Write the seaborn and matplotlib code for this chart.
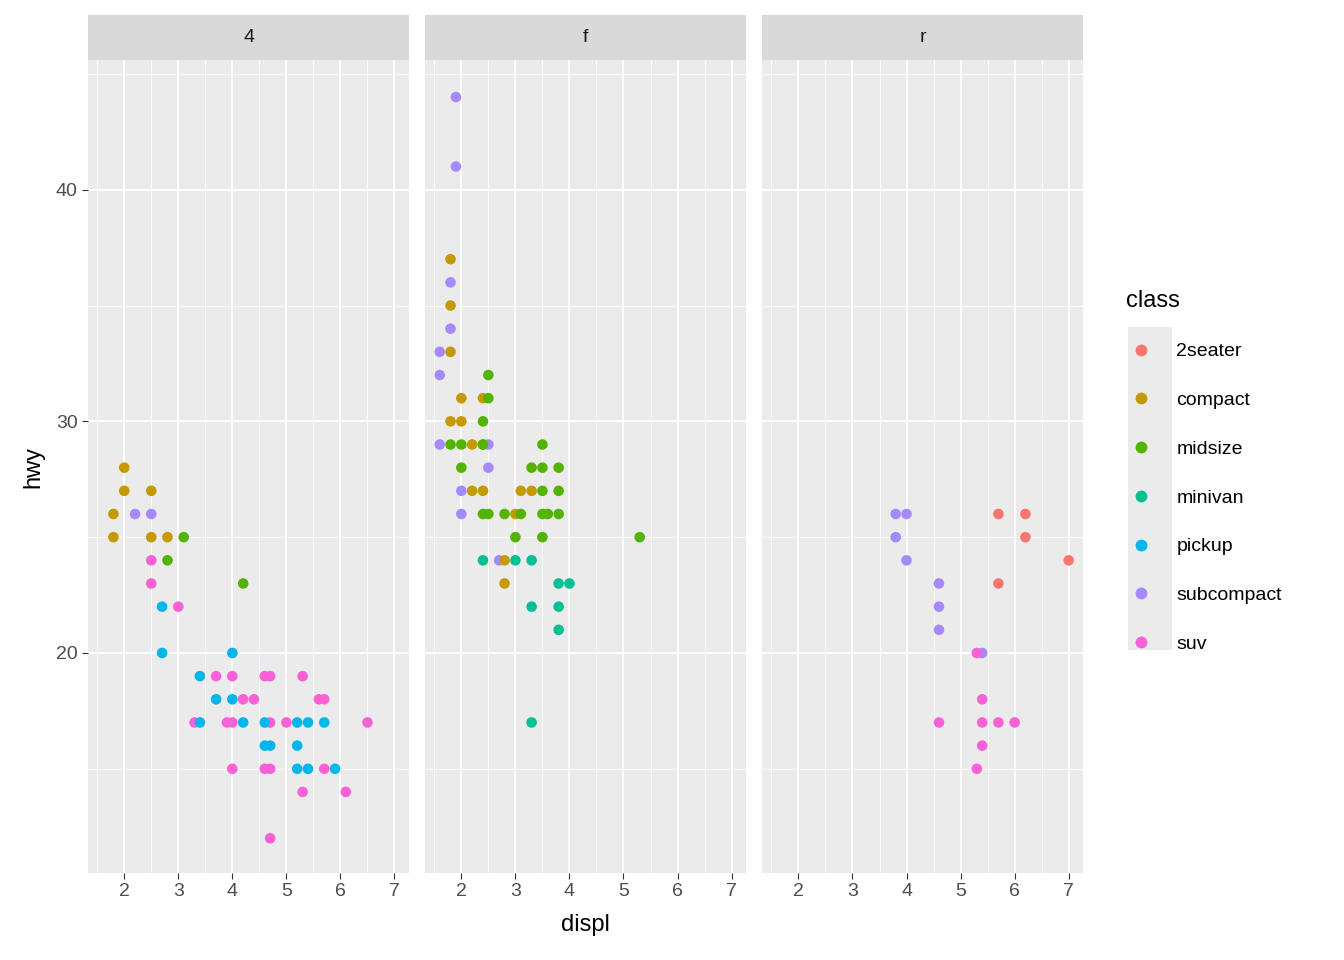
import pandas as pd
import seaborn as sns
import matplotlib.pyplot as plt
from matplotlib.patches import Rectangle
from matplotlib.lines import Line2D

# drv = 4
displ_4 = [1.8,1.8,2.0,2.0,2.5,2.5,2.8,2.2,2.5,2.8,3.1,4.2,
           2.5,2.5,3.0,3.3,3.7,3.9,4.0,4.0,4.0,4.2,4.4,4.6,4.7,4.6,4.7,4.7,4.7,5.0,5.3,5.3,5.6,5.7,5.7,6.1,6.5,
           2.7,2.7,3.4,3.4,3.7,4.0,4.0,4.2,4.6,4.6,4.7,5.2,5.2,5.2,5.4,5.4,5.7,5.9]
hwy_4 = [26,25,28,27,27,25,25,26,26,24,25,23,
         24,23,22,17,19,17,19,17,15,18,18,19,19,15,15,17,12,17,19,14,18,18,15,14,17,
         22,20,19,17,18,20,18,17,17,16,16,17,16,15,17,15,17,15]
class_4 = (["compact"]*7 + ["subcompact"]*2 + ["midsize"]*3 + ["suv"]*25 + ["pickup"]*18)

# drv = f
displ_f = [1.9,1.9,1.8,1.8,1.6,1.6,1.6,2.0,2.0,2.5,2.5,2.7,
           1.8,1.8,1.8,1.8,2.0,2.0,2.2,2.2,2.4,2.4,2.4,2.8,2.8,3.0,3.1,3.3,
           1.8,2.0,2.0,2.4,2.4,2.5,2.5,2.4,2.5,2.8,3.0,3.1,3.3,3.5,3.5,3.5,3.5,3.5,3.6,3.8,3.8,3.8,5.3,
           2.4,3.0,3.3,3.3,3.3,3.8,4.0,3.8,3.8]
hwy_f = [44,41,36,34,33,32,29,27,26,29,28,24,
         37,35,33,30,31,30,29,27,31,29,27,24,23,26,27,27,
         29,29,28,30,29,32,31,26,26,26,25,26,28,29,28,27,26,25,26,28,27,26,25,
         24,24,24,22,17,23,23,22,21]
class_f = (["subcompact"]*12 + ["compact"]*16 + ["midsize"]*23 + ["minivan"]*9)

# drv = r
displ_r = [3.8,4.0,3.8,4.0,4.6,4.6,4.6,5.4,
           5.7,6.2,6.2,5.7,7.0,
           4.6,5.3,5.3,5.4,5.4,5.4,5.7,6.0]
hwy_r = [26,26,25,24,23,22,21,20,
         26,26,25,23,24,
         17,20,15,18,17,16,17,17]
class_r = (["subcompact"]*8 + ["2seater"]*5 + ["suv"]*8)

classes = ["2seater", "compact", "midsize", "minivan", "pickup", "subcompact", "suv"]
colors = ["#F8766D", "#C49A00", "#53B400", "#00C094", "#00B6EB", "#A58AFF", "#FB61D7"]
palette = dict(zip(classes, colors))

df = pd.DataFrame({
    "displ": displ_4 + displ_f + displ_r,
    "hwy": hwy_4 + hwy_f + hwy_r,
    "class": class_4 + class_f + class_r,
    "drv": ["4"]*len(displ_4) + ["f"]*len(displ_f) + ["r"]*len(displ_r),
})

plt.rcParams['font.family'] = ['Liberation Sans', 'DejaVu Sans']
fig, axes = plt.subplots(1, 3, figsize=(13.44, 9.6), dpi=100, sharey=True)
fig.subplots_adjust(left=0.0655, right=0.806, bottom=0.0906, top=0.9375, wspace=0.05)

for i, (ax, d) in enumerate(zip(axes, ["4", "f", "r"])):
    ax.set_facecolor("#EBEBEB")
    sub = df[df["drv"] == d]
    sns.scatterplot(data=sub, x="displ", y="hwy", hue="class", palette=palette,
                    s=58, edgecolor="none", linewidth=0, legend=False, ax=ax, zorder=3)
    ax.set_xlim(1.33, 7.27)
    ax.set_ylim(10.5, 45.6)
    ax.set_xticks([2, 3, 4, 5, 6, 7])
    ax.set_xticks([2.5, 3.5, 4.5, 5.5, 6.5, 1.5], minor=True)
    ax.set_yticks([20, 30, 40])
    ax.set_yticks([15, 25, 35, 45], minor=True)
    ax.grid(which="major", color="white", linewidth=1.4, zorder=0)
    ax.grid(which="minor", color="white", linewidth=0.6, zorder=0)
    ax.set_axisbelow(True)
    for s in ax.spines.values():
        s.set_visible(False)
    ax.tick_params(which="major", length=4, color="#333333", labelsize=14, labelcolor="#4D4D4D")
    ax.tick_params(which="minor", length=0)
    if i > 0:
        ax.tick_params(axis="y", which="major", length=0)
    ax.set_xlabel("")
    ax.set_ylabel("")
    ax.add_patch(Rectangle((0, 1.0), 1, 45/813, transform=ax.transAxes,
                           facecolor="#D9D9D9", edgecolor="none", clip_on=False))
    ax.text(0.5, 1 + 22.5/813, d, transform=ax.transAxes, ha="center", va="center",
            fontsize=14, color="#1A1A1A")

axes[0].set_ylabel("hwy", fontsize=17, labelpad=8)
axes[1].set_xlabel("displ", fontsize=17, labelpad=10)

# legend
fig.patches.append(Rectangle((1128/1344, 1 - 650/960), 44/1344, 323/960,
                             transform=fig.transFigure, facecolor="#EBEBEB", edgecolor="none"))
handles = [Line2D([], [], marker="o", linestyle="", color=c, markersize=7.5) for c in colors]
leg = fig.legend(handles, classes, title="class", loc="upper left",
                 bbox_to_anchor=(1118/1344, 1 - 282/960), frameon=False,
                 fontsize=14, title_fontsize=17, labelspacing=1.6, handletextpad=1.0,
                 handlelength=1.6, borderaxespad=0)
leg._legend_box.align = "left"

fig.savefig("out.png", dpi=100)
